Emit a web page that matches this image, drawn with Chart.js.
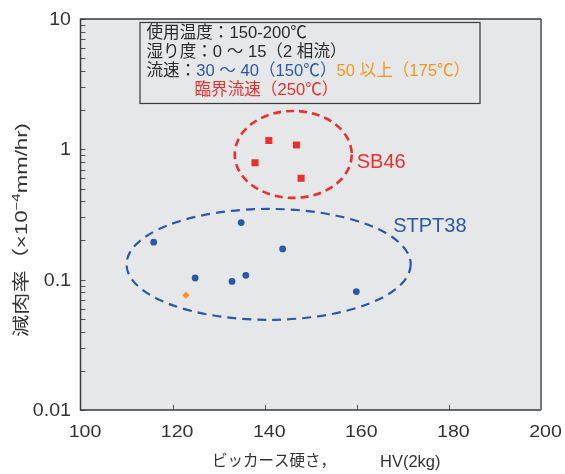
<!DOCTYPE html>
<html>
<head>
<meta charset="utf-8">
<script src="https://cdn.jsdelivr.net/npm/chart.js@4/dist/chart.umd.min.js"></script>
<style>
  html, body { margin: 0; padding: 0; background: #ffffff; }
  #wrap { width: 565px; height: 474px; }
</style>
</head>
<body>
<div id="wrap"><canvas id="c" width="565" height="474"></canvas></div>
<script>
// Vickers hardness (HV) vs. wall-thinning rate (×10^-4 mm/hr)
const sb46Hardness = [140.9, 146.9, 137.9, 147.9];
const sb46Rate = [1.17, 1.08, 0.79, 0.60];

const stpt150Hardness = [115.9, 134.9, 143.9, 124.9, 132.9, 135.9, 159.9];
const stpt150Rate = [0.194, 0.274, 0.172, 0.103, 0.097, 0.108, 0.081];

const stpt175Hardness = [122.9];
const stpt175Rate = [0.076];

const xTickValues = [100, 120, 140, 160, 180, 200];
const yDecades = [0.01, 0.1, 1, 10];

// Group outlines, given as hardness / rate ranges
const sb46Group = { x: [133.5, 158.9], y: [0.424, 1.97] };
const stptGroup = { x: [110.0, 171.7], y: [0.0492, 0.349] };

const RED = '#e8312f';
const BLUE = '#2b58a8';
const ORANGE = '#f5951f';
const INK = '#2b2b2b';
const PLOT_BG = '#e6e7e8';
const LATIN = "'Liberation Sans', Arial, 'Noto Sans CJK JP', sans-serif";
const CJK = "'Liberation Sans', 'Noto Sans CJK JP', sans-serif";

const zip = (xs, ys) => xs.map((x, i) => ({ x: x, y: ys[i] }));

function drawRuns(ctx, x, y, runs) {
  let cx = x;
  runs.forEach(([text, color]) => {
    ctx.fillStyle = color;
    ctx.fillText(text, cx, y);
    cx += ctx.measureText(text).width;
  });
}

// text drawn with a slight horizontal stretch
function wideText(ctx, text, x, y, sx, align) {
  ctx.save();
  ctx.translate(x, y);
  ctx.scale(sx, 1);
  ctx.textAlign = align;
  ctx.fillText(text, 0, 0);
  ctx.restore();
}

const decorations = {
  id: 'decorations',
  beforeDatasetsDraw(chart) {
    const { ctx, chartArea: a, scales: { x, y } } = chart;
    ctx.save();
    ctx.fillStyle = PLOT_BG;
    ctx.fillRect(a.left, a.top, a.right - a.left, a.bottom - a.top);

    // inward tick marks
    ctx.strokeStyle = '#555';
    ctx.lineWidth = 1;
    ctx.beginPath();
    xTickValues.slice(1, -1).forEach(v => {
      const px = Math.round(x.getPixelForValue(v)) + 0.5;
      ctx.moveTo(px, a.bottom);
      ctx.lineTo(px, a.bottom - 5);
    });
    yDecades.forEach((d, i) => {
      const mults = i < yDecades.length - 1 ? [1, 2, 3, 4, 5, 6, 7, 8, 9] : [1];
      mults.forEach(m => {
        const py = Math.round(y.getPixelForValue(d * m)) + 0.5;
        ctx.moveTo(a.left, py);
        ctx.lineTo(a.left + 5, py);
      });
    });
    ctx.stroke();

    // group ellipses
    const ell = (g, color, width, dash) => {
      const x0 = x.getPixelForValue(g.x[0]), x1 = x.getPixelForValue(g.x[1]);
      const y0 = y.getPixelForValue(g.y[1]), y1 = y.getPixelForValue(g.y[0]);
      ctx.beginPath();
      ctx.setLineDash(dash);
      ctx.strokeStyle = color;
      ctx.lineWidth = width;
      ctx.ellipse((x0 + x1) / 2, (y0 + y1) / 2, (x1 - x0) / 2, (y1 - y0) / 2, 0, 0, Math.PI * 2);
      ctx.stroke();
    };
    ell(sb46Group, RED, 2.6, [8, 5]);
    ell(stptGroup, BLUE, 2.2, [9, 6]);
    ctx.setLineDash([]);

    // group names
    ctx.font = '20px ' + LATIN;
    ctx.textBaseline = 'middle';
    ctx.textAlign = 'left';
    ctx.fillStyle = RED;
    ctx.fillText('SB46', x.getPixelForValue(sb46Group.x[1]) + 5, y.getPixelForValue(0.79));
    ctx.fillStyle = BLUE;
    ctx.fillText('STPT38', x.getPixelForValue(167.9), y.getPixelForValue(0.254));
    ctx.restore();
  },
  afterDraw(chart) {
    const { ctx, chartArea: a, scales: { x, y } } = chart;
    ctx.save();
    // frame
    ctx.strokeStyle = '#3a3a3a';
    ctx.lineWidth = 1.5;
    ctx.beginPath();
    ctx.moveTo(a.right, a.top);
    ctx.lineTo(a.left, a.top);
    ctx.lineTo(a.left, a.bottom);
    ctx.lineTo(a.right, a.bottom);
    ctx.stroke();
    ctx.strokeStyle = '#777';
    ctx.lineWidth = 2;
    ctx.beginPath();
    ctx.moveTo(a.right, a.top);
    ctx.lineTo(a.right, a.bottom);
    ctx.stroke();

    // tick labels
    ctx.fillStyle = '#333';
    ctx.textBaseline = 'middle';
    ctx.font = '17px ' + LATIN;
    xTickValues.forEach(v => {
      wideText(ctx, String(v), x.getPixelForValue(v) + 4.5, a.bottom + 22, 1.15, 'center');
    });
    ctx.font = '18.5px ' + LATIN;
    yDecades.forEach(v => {
      wideText(ctx, String(v), a.left - 9.5, y.getPixelForValue(v) + 1, 1.06, 'right');
    });

    // conditions box
    const bx = a.left + 59.5, by = a.top + 3.5, bw = 340, bh = 81;
    ctx.fillStyle = PLOT_BG;
    ctx.fillRect(bx, by, bw, bh);
    ctx.strokeStyle = '#3a3a3a';
    ctx.lineWidth = 1.2;
    ctx.strokeRect(bx, by, bw, bh);

    ctx.font = '16.6px ' + CJK;
    ctx.textBaseline = 'middle';
    ctx.textAlign = 'left';
    const tx = bx + 6.5;
    drawRuns(ctx, tx, by + 11, [['使用温度：150-200℃', INK]]);
    drawRuns(ctx, tx, by + 30, [['湿り度：0 ～ 15（2 相流）', INK]]);
    drawRuns(ctx, tx, by + 49, [['流速：', INK], ['30 ～ 40（150℃）', BLUE], ['50 以上（175℃）', ORANGE]]);
    drawRuns(ctx, tx + 48, by + 68, [['臨界流速（250℃）', RED]]);

    // x axis title
    ctx.fillStyle = '#333';
    ctx.textBaseline = 'middle';
    ctx.textAlign = 'left';
    ctx.font = '15.5px ' + CJK;
    ctx.fillText('ビッカース硬さ，', 212, 462);
    ctx.font = '16.5px ' + LATIN;
    ctx.fillText('HV(2kg)', 380, 462);

    // y axis title, stretched along its length
    ctx.translate(22, 230);
    ctx.rotate(-Math.PI / 2);
    const parts = [['減肉率（×10', 17, 0], ['−4', 11.5, -5], ['mm/hr)', 17, 0]];
    let total = 0;
    parts.forEach(p => { ctx.font = p[1] + 'px ' + CJK; total += ctx.measureText(p[0]).width; });
    const stretch = 214 / total;
    ctx.scale(stretch, 1);
    let cx = -total / 2;
    parts.forEach(p => {
      ctx.font = p[1] + 'px ' + CJK;
      ctx.fillText(p[0], cx, p[2]);
      cx += ctx.measureText(p[0]).width;
    });
    ctx.restore();
  }
};

new Chart(document.getElementById('c'), {
  type: 'scatter',
  data: {
    datasets: [
      { label: 'SB46', data: zip(sb46Hardness, sb46Rate), pointStyle: 'rect', pointRadius: 5, backgroundColor: RED, borderWidth: 0 },
      { label: 'STPT38 (150℃)', data: zip(stpt150Hardness, stpt150Rate), pointStyle: 'circle', pointRadius: 3.4, backgroundColor: BLUE, borderWidth: 0 },
      { label: 'STPT38 (175℃)', data: zip(stpt175Hardness, stpt175Rate), pointStyle: 'rectRot', pointRadius: 3.6, backgroundColor: ORANGE, borderWidth: 0 }
    ]
  },
  options: {
    responsive: false,
    animation: false,
    devicePixelRatio: 1,
    layout: { padding: { top: 19, right: 24, left: 0, bottom: 0 } },
    plugins: { legend: { display: false }, tooltip: { enabled: false } },
    scales: {
      x: {
        type: 'linear', min: 100, max: 200,
        afterBuildTicks: s => { s.ticks = xTickValues.map(v => ({ value: v })); },
        afterFit: s => { s.height = 64; s.paddingLeft = 0; s.paddingRight = 0; },
        grid: { display: false }, border: { display: false },
        ticks: { display: false }
      },
      y: {
        type: 'logarithmic', min: 0.01, max: 10,
        afterBuildTicks: s => { s.ticks = yDecades.map(v => ({ value: v })); },
        afterFit: s => { s.width = 80.5; s.paddingTop = 0; s.paddingBottom = 0; },
        grid: { display: false }, border: { display: false },
        ticks: { display: false }
      }
    }
  },
  plugins: [decorations]
});
</script>
</body>
</html>
